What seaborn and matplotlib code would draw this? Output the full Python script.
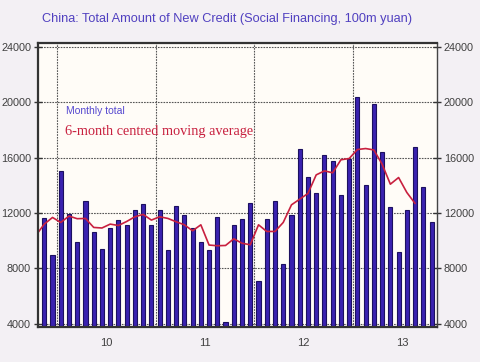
import seaborn as sns
import pandas as pd
import matplotlib.pyplot as plt
from matplotlib.ticker import FixedLocator, NullFormatter
from matplotlib.transforms import blended_transform_factory

# monthly total new credit, Nov 2009 - Oct 2013 (100m yuan)
bar_start = '2009-11'
monthly_total = [11650, 8950, 15000, 11950, 9890, 12840, 10610, 9370, 10900, 11520, 11160, 12220,
                 12680, 11160, 12220, 9300, 12530, 11880, 10900, 9890, 9350, 11710, 4150, 11140,
                 11600, 12720, 7070, 11590, 12880, 8290, 11840, 16600, 14620, 13470, 16190, 15780,
                 13280, 15930, 20360, 14040, 19840, 16430, 12450, 9180, 12220, 16740, 13870, 11360]

# 6-month centred moving average, Oct 2009 - Aug 2013
ma_start = '2009-10'
moving_avg = [10400, 11200, 11680, 11320, 11780, 11590, 11610, 10960, 10920, 11200, 11100, 11390,
              11730, 11900, 11490, 11730, 11610, 11370, 11150, 10720, 11150, 9690, 9640, 9660,
              10140, 9820, 9710, 11150, 10670, 10670, 11320, 12590, 13000, 13410, 14750, 15040,
              14900, 15840, 15930, 16580, 16650, 16550, 15520, 14080, 14560, 13480, 12690]

years = ['10', '11', '12', '13']
y_ticks = [4000, 8000, 12000, 16000, 20000, 24000]

origin = pd.Period(bar_start, 'M')
bars = pd.DataFrame({'month': pd.period_range(bar_start, periods=len(monthly_total), freq='M'),
                     'value': monthly_total})
bars['pos'] = [(m - origin).n for m in bars['month']]
ma = pd.DataFrame({'month': pd.period_range(ma_start, periods=len(moving_avg), freq='M'),
                   'value': moving_avg})
ma['pos'] = [(m - origin).n for m in ma['month']]
year_starts = [(pd.Period('20' + y + '-01', 'M') - origin).n - 0.5 for y in years]

sns.set_style('white', {'axes.facecolor': '#FFFCF7', 'figure.facecolor': '#F3F0F4'})
plt.rcParams['font.family'] = ['Liberation Sans', 'DejaVu Sans']

fig = plt.figure(figsize=(4.8, 3.62), dpi=100)
ax = fig.add_axes([38 / 480, 1 - 327 / 362, 399 / 480, (327 - 43.3) / 362])

sns.barplot(data=bars, x='pos', y='value', native_scale=True, width=0.5,
            color='#3A22B0', edgecolor='#1C1060', linewidth=0.8, saturation=1, ax=ax)
sns.lineplot(data=ma, x='pos', y='value', color='#C8203F', linewidth=1.2, ax=ax)

ax.set_xlim(-0.76, 47.66)
ax.set_ylim(3780, 24240)
ax.set_xlabel('')
ax.set_ylabel('')

ax.set_yticks(y_ticks)
ax.tick_params(axis='y', which='major', direction='inout', length=6, width=1, color='#333333',
               labelsize=7.8, labelcolor='#404040', left=True, right=True,
               labelleft=True, labelright=True, pad=2)
ax.yaxis.grid(True, linestyle=(0, (1.5, 1)), color='#555555', linewidth=0.8)

ax.xaxis.set_major_locator(FixedLocator(year_starts))
ax.xaxis.set_major_formatter(NullFormatter())
ax.xaxis.set_minor_locator(FixedLocator([p + 0.5 for p in bars['pos']]))
ax.tick_params(axis='x', which='major', length=0)
ax.tick_params(axis='x', which='minor', direction='in', length=3, width=0.8, color='#555555')
ax.xaxis.grid(True, which='major', linestyle=(0, (1.5, 1)), color='#555555', linewidth=0.8)

trans = blended_transform_factory(ax.transData, ax.transAxes)
for i, y in enumerate(years):
    ax.text(year_starts[i] + 6, -0.058, y, transform=trans, ha='center', va='center',
            fontsize=8, color='#404040')

for side in ['top', 'left', 'bottom']:
    ax.spines[side].set_color('#333333')
    ax.spines[side].set_linewidth(1.6)
ax.spines['right'].set_color('#444444')
ax.spines['right'].set_linewidth(1.0)

ax.text(0.07, 0.76, 'Monthly total', transform=ax.transAxes, fontsize=7.5,
        color='#5548D0', family=['Liberation Sans Narrow', 'Liberation Sans'], va='center')
ax.text(0.067, 0.69, '6-month centred moving average', transform=ax.transAxes, fontsize=10.3,
        color='#C8203F', family=['Liberation Serif', 'DejaVu Serif'], va='center')

fig.text(42 / 480, 1 - 19 / 362, 'China: Total Amount of New Credit (Social Financing, 100m yuan)',
         fontsize=9.2, color='#5040C0', va='center', ha='left')

fig.savefig('out.png', dpi=100)
